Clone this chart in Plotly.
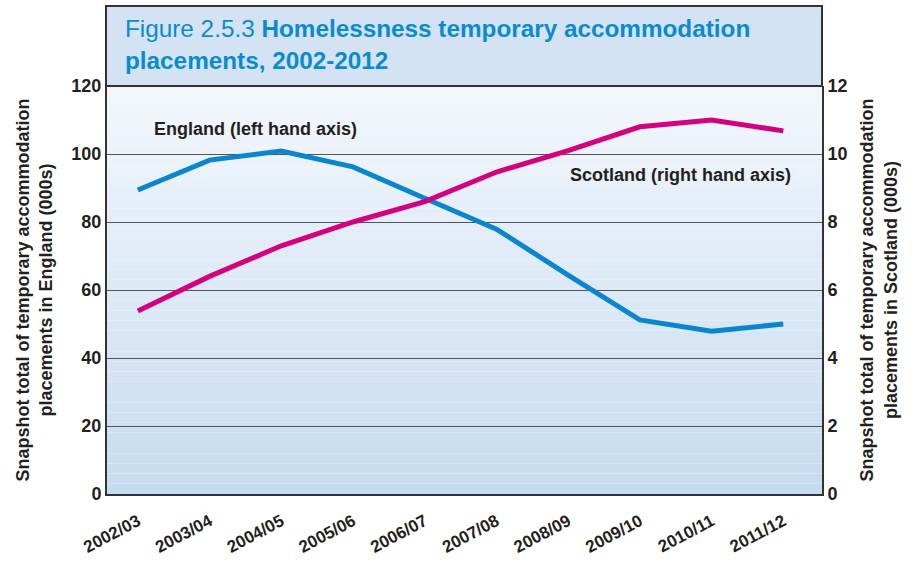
import plotly.graph_objects as go

years = ["2002/03", "2003/04", "2004/05", "2005/06", "2006/07",
         "2007/08", "2008/09", "2009/10", "2010/11", "2011/12"]
england = [89.4, 98.2, 100.9, 96.2, 87.0, 77.9, 64.4, 51.2, 47.9, 50.0]
scotland = [5.38, 6.4, 7.3, 8.0, 8.6, 9.47, 10.1, 10.8, 11.0, 10.68]
left_ticks = [0, 20, 40, 60, 80, 100, 120]
right_ticks = [0, 2, 4, 6, 8, 10, 12]

FONT = "Liberation Sans, Arial, sans-serif"
DARK = "#231f20"
BLUE = "#0a86cf"
MAGENTA = "#d4007f"

fig = go.Figure()
xidx = list(range(len(years)))
fig.add_trace(go.Scatter(x=xidx, y=england, mode="lines", name="England",
                         line=dict(color=BLUE, width=5), yaxis="y"))
fig.add_trace(go.Scatter(x=xidx, y=scotland, mode="lines", name="Scotland",
                         line=dict(color=MAGENTA, width=5), yaxis="y2"))

# gradient background bands
shapes = []
n = 40
top = (0xf3, 0xf7, 0xfc)
bot = (0xc6, 0xdb, 0xf0)
for i in range(n):
    t = (i + 0.5) / n
    c = tuple(int(round(top[k] + (bot[k] - top[k]) * t)) for k in range(3))
    shapes.append(dict(type="rect", xref="paper", yref="paper",
                       x0=0, x1=1, y0=1 - (i + 1) / n, y1=1 - i / n,
                       fillcolor="rgb(%d,%d,%d)" % c, line=dict(width=0),
                       layer="below"))
# title box
ph = 408.0
shapes.append(dict(type="rect", xref="paper", yref="paper",
                   x0=-1 / 715, x1=1, y0=1, y1=1 + 80 / ph,
                   fillcolor="#d3e3f3", line=dict(color="#333333", width=2),
                   layer="above"))

fig.update_layout(
    width=922, height=566,
    margin=dict(l=107, r=100, t=86, b=72, autoexpand=False),
    paper_bgcolor="white",
    plot_bgcolor="rgba(0,0,0,0)",
    showlegend=False,
    shapes=shapes,
    font=dict(family=FONT, color=DARK),
    xaxis=dict(
        range=[-0.43, 9.54], tickmode="array", tickvals=xidx, ticktext=years,
        tickangle=-28, showgrid=False, zeroline=False, automargin=False,
        showline=True, linecolor="#333333", linewidth=2, ticklabelstandoff=9,
        tickfont=dict(size=17, family=FONT, color=DARK, weight="bold"),
    ),
    yaxis=dict(
        range=[0, 120], tickvals=left_ticks, showgrid=True, automargin=False,
        gridcolor="#555555", gridwidth=1, zeroline=False,
        showline=True, linecolor="#333333", linewidth=2,
        tickfont=dict(size=18, family=FONT, color=DARK, weight="bold"),
        title=dict(text="<b>Snapshot total of temporary accommodation<br>placements in England (000s)</b>",
                   font=dict(size=18, family=FONT, color=DARK), standoff=14),
    ),
    yaxis2=dict(
        range=[0, 12], tickvals=right_ticks, overlaying="y", side="right",
        showgrid=False, zeroline=False, automargin=False,
        showline=True, linecolor="#333333", linewidth=2,
        tickfont=dict(size=18, family=FONT, color=DARK, weight="bold"),
        title=dict(text="<b>Snapshot total of temporary accommodation<br>placements in Scotland (000s)</b>",
                   font=dict(size=18, family=FONT, color=DARK), standoff=14),
    ),
    annotations=[
        dict(xref="paper", yref="paper", x=16 / 715, y=1 + 73 / ph,
             xanchor="left", yanchor="top", showarrow=False, align="left",
             text="Figure 2.5.3 <b>Homelessness temporary accommodation<br>placements, 2002-2012</b>",
             font=dict(size=24.3, family=FONT, color="#0a8bd0")),
        dict(xref="paper", yref="paper", x=(152 - 107) / 715, y=(494 - 129) / ph,
             xanchor="left", yanchor="middle", showarrow=False,
             text="<b>England (left hand axis)</b>",
             font=dict(size=18, family=FONT, color=DARK)),
        dict(xref="paper", yref="paper", x=(568 - 107) / 715, y=(494 - 175) / ph,
             xanchor="left", yanchor="middle", showarrow=False,
             text="<b>Scotland (right hand axis)</b>",
             font=dict(size=18, family=FONT, color=DARK)),
    ],
)

fig.write_html("out.html", config={"displayModeBar": False},
               post_script="document.body.style.margin='0px';")
